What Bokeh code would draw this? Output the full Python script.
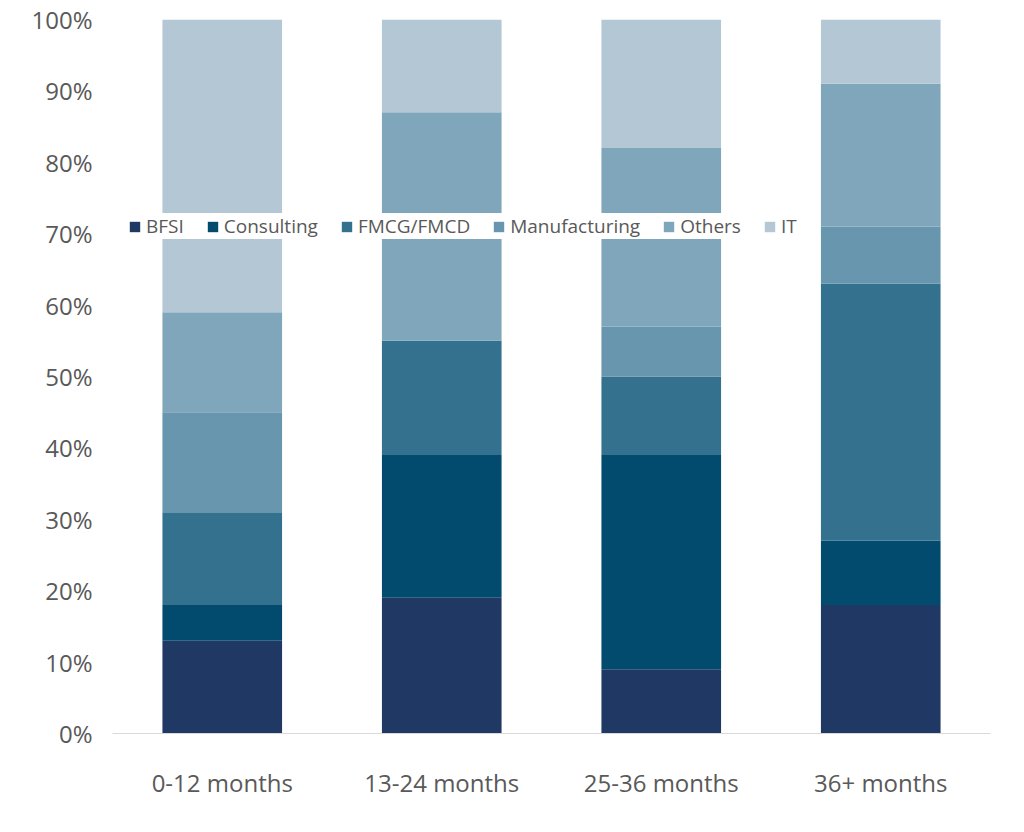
from bokeh.plotting import figure
from bokeh.models import Legend, LegendItem, NumeralTickFormatter, FixedTicker, Range1d
from bokeh.embed import file_html
from bokeh.resources import INLINE

categories = ["0-12 months", "13-24 months", "25-36 months", "36+ months"]
series = ["BFSI", "Consulting", "FMCG/FMCD", "Manufacturing", "Others", "IT"]
bfsi = [13, 19, 9, 18]
consulting = [5, 20, 30, 9]
fmcg = [13, 16, 11, 36]
manufacturing = [14, 0, 7, 8]
others = [14, 32, 25, 20]
it = [41, 13, 18, 9]
colors = ["#203864", "#024a6e", "#34718f", "#6896ae", "#7fa6ba", "#b3c7d4"]

data = {"cat": categories}
for name, vals in zip(series, [bfsi, consulting, fmcg, manufacturing, others, it]):
    data[name] = [v / 100 for v in vals]

p = figure(x_range=categories, y_range=Range1d(0, 1), width=1000, height=812,
           output_backend="svg", toolbar_location=None,
           min_border_left=112, min_border_right=10, min_border_top=19, min_border_bottom=79)
rs = p.vbar_stack(series, x="cat", width=0.545, color=colors, source=data, line_width=0)

p.xgrid.grid_line_color = None
p.ygrid.grid_line_color = None
p.outline_line_color = None
p.yaxis.formatter = NumeralTickFormatter(format="0%")
p.yaxis.ticker = FixedTicker(ticks=[i / 10 for i in range(11)])
p.yaxis.axis_line_color = None
p.yaxis.major_tick_line_color = None
p.yaxis.minor_tick_line_color = None
p.xaxis.axis_line_color = "#d9d9d9"
p.xaxis.major_tick_line_color = None
p.x_range.range_padding = 0
for ax in (p.xaxis, p.yaxis):
    ax.major_label_text_font = "Open Sans"
    ax.major_label_text_font_size = "24px"
    ax.major_label_text_color = "#595959"
p.xaxis.major_label_standoff = 26
p.yaxis.major_label_standoff = 14

legend = Legend(items=[LegendItem(label=s, renderers=[r]) for s, r in zip(series, rs)],
                orientation="horizontal", location=(16, 494),
                background_fill_color="white", background_fill_alpha=1,
                border_line_color=None, label_text_font="Open Sans",
                label_text_font_size="19px", label_text_color="#595959",
                glyph_width=13, glyph_height=13, spacing=22, padding=4,
                label_standoff=5, margin=0)
p.add_layout(legend, "center")

open("out.html", "w").write(file_html(p, INLINE))
